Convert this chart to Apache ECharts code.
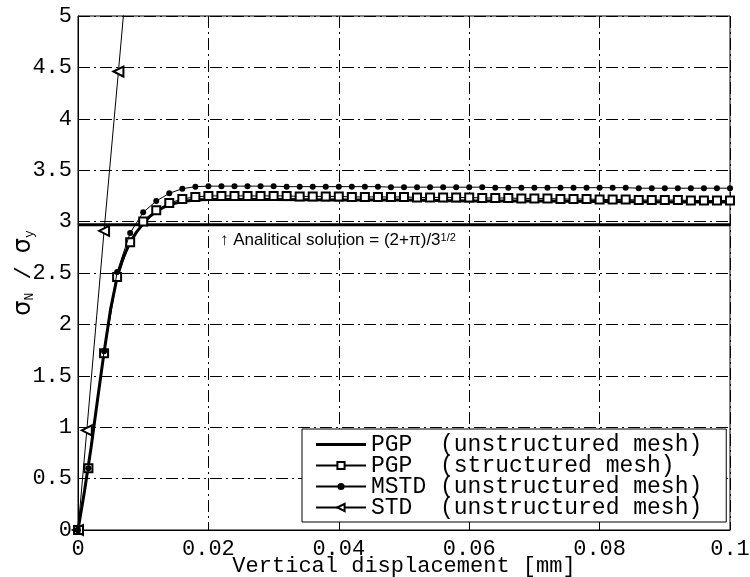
<!DOCTYPE html>
<html>
<head>
<meta charset="utf-8">
<script src="https://cdn.jsdelivr.net/npm/echarts@6/dist/echarts.min.js"></script>
<style>
  html, body { margin: 0; padding: 0; background: #fff; }
  #main { width: 750px; height: 577px; }
</style>
</head>
<body>
<div id="main"></div>
<script>
// PGP, unstructured mesh (thick line, no markers)
const pgpUnsX = [0, 0.001, 0.002, 0.003, 0.004, 0.005, 0.006, 0.007, 0.008, 0.009, 0.010, 0.011, 0.012, 0.013, 0.014, 0.015, 0.016, 0.018, 0.020, 0.030, 0.040, 0.050, 0.060, 0.070, 0.080, 0.090, 0.100];
const pgpUnsY = [0, 0.38, 0.80, 1.27, 1.73, 2.15, 2.46, 2.66, 2.80, 2.90, 2.98, 3.05, 3.10, 3.135, 3.16, 3.18, 3.195, 3.21, 3.215, 3.215, 3.21, 3.21, 3.20, 3.20, 3.195, 3.19, 3.19];

// PGP structured + MSTD share the same sampling
const meshX = [0, 0.0016, 0.004, 0.006, 0.008, 0.010, 0.012, 0.014, 0.016, 0.018, 0.020,
  0.022, 0.024, 0.026, 0.028, 0.030, 0.032, 0.034, 0.036, 0.038, 0.040,
  0.042, 0.044, 0.046, 0.048, 0.050, 0.052, 0.054, 0.056, 0.058, 0.060,
  0.062, 0.064, 0.066, 0.068, 0.070, 0.072, 0.074, 0.076, 0.078, 0.080,
  0.082, 0.084, 0.086, 0.088, 0.090, 0.092, 0.094, 0.096, 0.098, 0.100];
const pgpStrY = [0, 0.60, 1.72, 2.46, 2.80, 3.00, 3.11, 3.18, 3.22, 3.24, 3.25,
  3.25, 3.25, 3.25, 3.25, 3.25, 3.25, 3.245, 3.245, 3.245, 3.245,
  3.24, 3.24, 3.24, 3.24, 3.24, 3.235, 3.235, 3.235, 3.235, 3.235,
  3.23, 3.23, 3.23, 3.225, 3.225, 3.225, 3.22, 3.22, 3.22, 3.215,
  3.215, 3.215, 3.21, 3.21, 3.21, 3.21, 3.205, 3.205, 3.205, 3.205];
const mstdY = [0, 0.60, 1.74, 2.51, 2.89, 3.09, 3.20, 3.275, 3.32, 3.34, 3.345,
  3.345, 3.345, 3.345, 3.345, 3.345, 3.34, 3.34, 3.34, 3.34, 3.34,
  3.34, 3.34, 3.34, 3.335, 3.335, 3.335, 3.335, 3.335, 3.335, 3.335,
  3.335, 3.33, 3.33, 3.33, 3.33, 3.33, 3.33, 3.33, 3.33, 3.33,
  3.33, 3.33, 3.325, 3.325, 3.325, 3.325, 3.325, 3.325, 3.325, 3.325];

// STD (goes off the top)
const stdX = [0, 0.00135, 0.0040, 0.0062, 0.0085];
const stdY = [0, 0.97, 2.91, 4.46, 6.1];

// analytical solution (2+pi)/sqrt(3)
const analyticX = [0, 0.1];
const analyticY = [2.9687, 2.9687];

const seriesNames = [
  'PGP  (unstructured mesh)',
  'PGP  (structured mesh)',
  'MSTD (unstructured mesh)',
  'STD  (unstructured mesh)'
];

const zip = (xs, ys) => xs.map((x, i) => [x, ys[i]]);

const mono = 'Liberation Mono';
const gridDash = { color: '#000', width: 1, type: [12, 4, 2, 4] };

const chart = echarts.init(document.getElementById('main'));

chart.setOption({
  animation: false,
  grid: { left: 78, right: 20, top: 16, bottom: 47, show: true, borderColor: '#000', borderWidth: 1,
    outerBoundsMode: 'none', containLabel: false },
  xAxis: {
    type: 'value', min: 0, max: 0.1, interval: 0.02,
    name: 'Vertical displacement [mm]', nameLocation: 'middle', nameGap: 25, nameMoveOverlap: false,
    nameTextStyle: { fontFamily: mono, fontSize: 22, color: '#000' },
    axisLine: { lineStyle: { color: '#000' } },
    axisTick: { inside: true, length: 5, lineStyle: { color: '#000' } },
    axisLabel: { fontFamily: mono, fontSize: 22, color: '#000', margin: 8,
      formatter: v => String(+v.toFixed(2)) },
    splitLine: { lineStyle: gridDash }
  },
  yAxis: {
    type: 'value', min: 0, max: 5, interval: 0.5,
    name: '{s|σ}{n|N}{t| / }{s|σ}{n|y}', nameLocation: 'middle', nameGap: 42, nameMoveOverlap: false,
    nameTextStyle: {
      color: '#000',
      rich: {
        s: { fontFamily: 'DejaVu Sans', fontSize: 24, color: '#000' },
        n: { fontFamily: mono, fontSize: 13, color: '#000', verticalAlign: 'bottom' },
        t: { fontFamily: mono, fontSize: 22, color: '#000' }
      }
    },
    axisLine: { lineStyle: { color: '#000' } },
    axisTick: { inside: true, length: 5, lineStyle: { color: '#000' } },
    axisLabel: { fontFamily: mono, fontSize: 22, color: '#000', margin: 6 },
    splitLine: { lineStyle: gridDash }
  },
  legend: {
    orient: 'vertical', left: 302, top: 429,
    padding: [4, 24, 3, 13], itemGap: -2, itemWidth: 50, itemHeight: 9,
    backgroundColor: '#fff', borderColor: '#000', borderWidth: 1, borderRadius: 0,
    textStyle: { fontFamily: mono, fontSize: 23, lineHeight: 20, color: '#000' },
    data: [
      { name: seriesNames[0], icon: 'path://M0,0H50V3H0Z' },
      seriesNames[1], seriesNames[2], seriesNames[3]
    ]
  },
  graphic: [{
    type: 'text', left: 220, top: 232, z: 100,
    style: {
      text: '↑ Analitical solution = (2+π)/3{sup|1/2}',
      font: '17px "Liberation Sans"', fill: '#000',
      rich: { sup: { fontFamily: 'Liberation Sans', fontSize: 11, verticalAlign: 'top' } }
    }
  }],
  series: [
    {
      name: 'analytic', type: 'line', data: zip(analyticX, analyticY),
      showSymbol: false, symbol: 'none', color: '#000', lineStyle: { width: 3, color: '#000' }, z: 3
    },
    {
      name: seriesNames[0], type: 'line', data: zip(pgpUnsX, pgpUnsY),
      symbol: 'none', color: '#000', lineStyle: { width: 3, color: '#000' }, z: 4
    },
    {
      name: seriesNames[1], type: 'line', data: zip(meshX, pgpStrY),
      symbol: 'emptyRect', symbolSize: 8, color: '#000',
      itemStyle: { color: '#000', borderWidth: 1 },
      lineStyle: { width: 1, color: '#000' }, z: 5
    },
    {
      name: seriesNames[2], type: 'line', data: zip(meshX, mstdY),
      symbol: 'circle', symbolSize: 6, color: '#000',
      itemStyle: { color: '#000' },
      lineStyle: { width: 1, color: '#000' }, z: 6
    },
    {
      name: seriesNames[3], type: 'line', data: zip(stdX, stdY),
      symbol: 'emptyTriangle', symbolSize: 10, symbolRotate: 90, color: '#000',
      itemStyle: { color: '#000', borderWidth: 1 },
      lineStyle: { width: 1, color: '#000' }, clip: true, z: 5
    }
  ]
});
</script>
</body>
</html>
